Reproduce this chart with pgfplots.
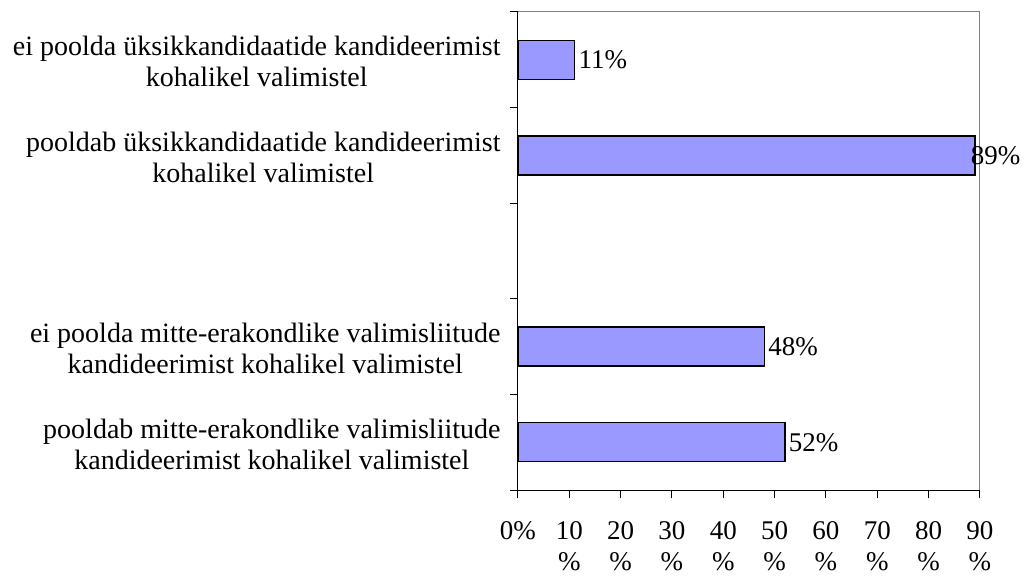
\documentclass[border=0pt]{standalone}
\usepackage{fontspec}
\setmainfont{Liberation Serif}
\usepackage{pgfplots}
\pgfplotsset{compat=1.18}
\definecolor{barblue}{HTML}{9999FF}
\begin{document}
\begin{tikzpicture}[font=\fontsize{28bp}{31bp}\selectfont]
\useasboundingbox (-518bp,-88bp) rectangle (511bp,490bp);
\begin{axis}[
 at={(0,0)}, anchor=south west,
 scale only axis, width=462bp, height=478bp,
 xmin=0, xmax=90, ymin=0, ymax=5,
 axis x line*=bottom, axis y line*=left,
 axis line style={-, black, line width=1pt},
 xtick={0,10,...,90},
 xticklabels={0\%,10\\\%,20\\\%,30\\\%,40\\\%,50\\\%,60\\\%,70\\\%,80\\\%,90\\\%},
 xticklabel style={align=center, font=\fontsize{27bp}{31bp}\selectfont, yshift=-20bp},
 ytick={0,1,...,5}, yticklabels={},
 extra y ticks={0.5,1.5,3.5,4.5},
 extra y tick labels={{pooldab mitte-erakondlike valimisliitude\\kandideerimist kohalikel valimistel},
   {ei poolda mitte-erakondlike valimisliitude\\kandideerimist kohalikel valimistel},
   {pooldab üksikkandidaatide kandideerimist\\kohalikel valimistel},
   {ei poolda üksikkandidaatide kandideerimist\\kohalikel valimistel}},
 extra y tick style={major tick length=0pt, yticklabel style={align=center, xshift=-14bp, yshift=-2bp}},
 tick align=outside, major tick length=8bp,
 tick style={black, line width=1pt},
 xbar, bar width=39bp, bar shift=0pt,
 point meta=x,
 /pgf/number format/assume math mode=true,
 nodes near coords={\pgfmathprintnumber{\pgfplotspointmeta}\%},
 nodes near coords align=horizontal,
 every node near coord/.append style={font=\fontsize{27bp}{31bp}\selectfont},
 clip=false,
]
\addplot[fill=barblue, draw=black, line width=1.5pt] coordinates {(52,0.5) (48,1.5) (11,4.5)};
\addplot[fill=barblue, draw=black, line width=1.5pt, every node near coord/.append style={xshift=-8bp}] coordinates {(89,3.5)};
\draw[gray, line width=1pt] (rel axis cs:0,1) -- (rel axis cs:1,1) -- (rel axis cs:1,0);
\end{axis}
\end{tikzpicture}
\end{document}
